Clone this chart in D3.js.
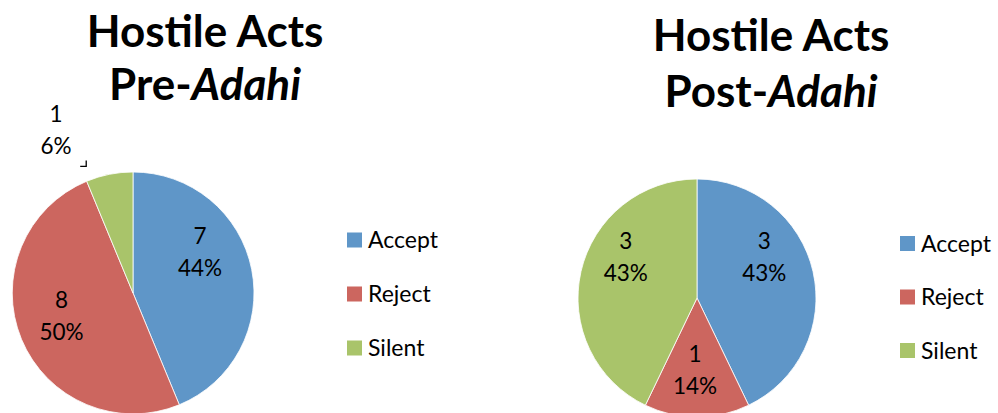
<!DOCTYPE html>
<html>
<head>
<meta charset="utf-8">
<script src="https://cdn.jsdelivr.net/npm/d3@7"></script>
<style>
  body { margin: 0; background: #fff; }
  text { font-family: Lato, "Open Sans", sans-serif; fill: #000; }
</style>
</head>
<body>
<div id="chart"></div>
<script>
// data
const categories = ["Accept", "Reject", "Silent"];
const preValues = [7, 8, 1];
const postValues = [3, 1, 3];
const titles = [["Hostile Acts", "Pre-", "Adahi"], ["Hostile Acts", "Post-", "Adahi"]];
const colors = ["#5f96c8", "#cc665f", "#a9c46a"];

const width = 998, height = 413;

const svg = d3.select("#chart")
  .append("svg")
  .attr("width", width)
  .attr("height", height);

svg.append("rect").attr("width", width).attr("height", height).attr("fill", "#fff");

const color = d3.scaleOrdinal().domain(categories).range(colors);

// layout for each pie (centre, radius, title, legend, label nudges)
const charts = [
  {values: preValues, title: titles[0], cx: 133, cy: 293, r: 121, titleX: 205, titleY: 47, lineGap: 53,
   legendX: 347, legendY: 240, legendGap: 54, nudge: [[-9, -34], [0, -15], null]},
  {values: postValues, title: titles[1], cx: 697, cy: 298, r: 119, titleX: 771, titleY: 51, lineGap: 56,
   legendX: 900, legendY: 243.5, legendGap: 53.5, nudge: [[-7, -32], [-2, -12], [3, -32]]}
];

const pie = d3.pie().sort(null).value(d => d.value);

charts.forEach(c => {
  const total = d3.sum(c.values);
  const rows = categories.map((k, i) => ({key: k, value: c.values[i]}));
  const arcs = pie(rows);

  const g = svg.append("g").attr("transform", `translate(${c.cx},${c.cy})`);

  const arc = d3.arc().innerRadius(0).outerRadius(c.r);
  g.selectAll("path")
    .data(arcs)
    .enter()
    .append("path")
    .attr("d", arc)
    .attr("fill", d => color(d.data.key))
    .attr("stroke", "#fff")
    .attr("stroke-width", 0.8);

  const labelArc = d3.arc().innerRadius(c.r * 0.64).outerRadius(c.r * 0.64);
  const outArc = d3.arc().innerRadius(c.r * 1.4).outerRadius(c.r * 1.4);
  const leadArc = d3.arc().innerRadius(c.r * 1.05).outerRadius(c.r * 1.05);

  arcs.forEach((d, i) => {
    const pct = Math.round(d.data.value / total * 100) + "%";
    let x, y;
    if (c.nudge[i]) {
      const p = labelArc.centroid(d);
      x = p[0] + c.nudge[i][0];
      y = p[1] + c.nudge[i][1];
    } else {
      // small slice: label outside with a short leader corner
      const p = outArc.centroid(d);
      x = p[0] - 44;
      y = p[1] - 5;
      const q = leadArc.centroid(d);
      const lx = q[0] - 22, ly = q[1] - 2;
      g.append("path")
        .attr("d", `M${lx - 6},${ly} L${lx},${ly} L${lx},${ly - 6}`)
        .attr("fill", "none")
        .attr("stroke", "#000")
        .attr("stroke-width", 1.3);
    }
    const t = g.append("text")
      .attr("text-anchor", "middle")
      .attr("font-size", 22.5);
    t.append("tspan").attr("x", x).attr("y", y).text(d.data.value);
    t.append("tspan").attr("x", x).attr("y", y + 32).text(pct);
  });

  // title
  const title = svg.append("text")
    .attr("text-anchor", "middle")
    .attr("font-size", 44)
    .attr("font-weight", "bold");
  title.append("tspan").attr("x", c.titleX).attr("y", c.titleY).text(c.title[0]);
  title.append("tspan").attr("x", c.titleX).attr("y", c.titleY + c.lineGap).text(c.title[1]);
  title.append("tspan").attr("font-style", "italic").text(c.title[2]);

  // legend
  const legend = svg.append("g");
  categories.forEach((k, i) => {
    const ly = c.legendY + i * c.legendGap;
    legend.append("rect")
      .attr("x", c.legendX)
      .attr("y", ly - 7.5)
      .attr("width", 15)
      .attr("height", 15)
      .attr("fill", color(k));
    legend.append("text")
      .attr("x", c.legendX + 21)
      .attr("y", ly + 8)
      .attr("font-size", 23)
      .text(k);
  });
});
</script>
</body>
</html>
